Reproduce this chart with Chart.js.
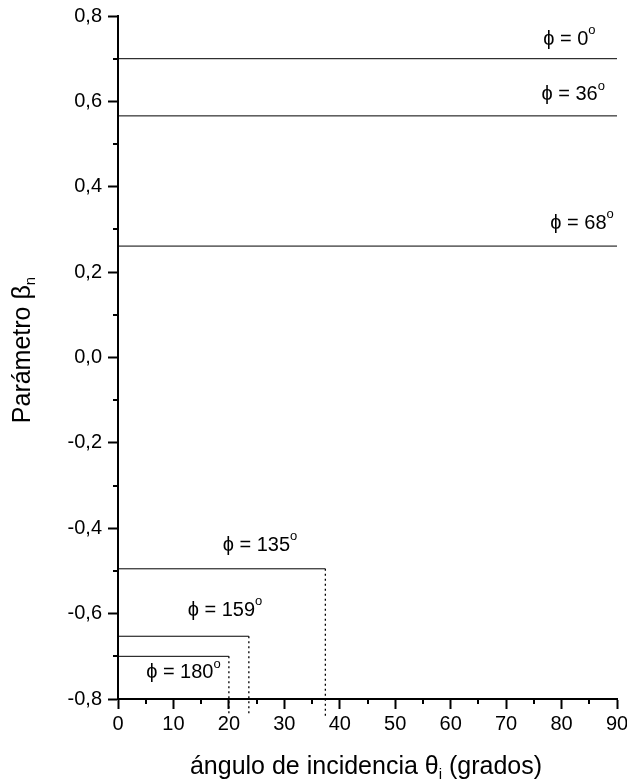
<!DOCTYPE html>
<html>
<head>
<meta charset="utf-8">
<script src="https://cdn.jsdelivr.net/npm/chart.js@4/dist/chart.umd.min.js"></script>
<style>
body { margin: 0; background: #fff; }
#wrap { width: 627px; height: 783px; }
</style>
</head>
<body>
<div id="wrap"><canvas id="chart" width="627" height="783"></canvas></div>
<script>
// values
const phiAngles = [0, 36, 68, 135, 159, 180];
const betaValues = [0.700, 0.566, 0.261, -0.495, -0.653, -0.700];
const cutoffAngles = [90, 90, 90, 37.4, 23.6, 20.0];
const hasCutoff = [false, false, false, true, true, true];
const dropTo = -0.84;

// where each phi label sits (data units)
const labelX = [81.4, 82.1, 83.7, 25.6, 19.3, 11.8];
const labelY = [0.744, 0.615, 0.313, -0.441, -0.593, -0.739];

const xMin = 0, xMax = 90, xStep = 10;
const yMin = -0.8, yMax = 0.8, yStep = 0.2;

const FONT = "'Liberation Sans', Arial, 'DejaVu Sans', sans-serif";

const datasets = [];
phiAngles.forEach((phi, i) => {
    datasets.push({
        label: 'phi ' + phi,
        data: [{ x: 0, y: betaValues[i] }, { x: cutoffAngles[i], y: betaValues[i] }],
        borderColor: '#000',
        borderWidth: 1,
        pointRadius: 0,
        showLine: true
    });
    if (hasCutoff[i]) {
        datasets.push({
            label: 'cut ' + phi,
            data: [{ x: cutoffAngles[i], y: betaValues[i] }, { x: cutoffAngles[i], y: dropTo }],
            borderColor: '#000',
            borderWidth: 1.3,
            borderDash: [2, 3],
            pointRadius: 0,
            showLine: true,
            clip: false
        });
    }
});

// draw text made of pieces (for sub/superscripts)
function drawRich(ctx, parts, x, y, align) {
    let w = 0;
    parts.forEach(p => {
        ctx.font = p.size + 'px ' + FONT;
        p.w = ctx.measureText(p.t).width;
        w += p.w;
    });
    let cx = align === 'center' ? x - w / 2 : x;
    ctx.textAlign = 'left';
    ctx.textBaseline = 'middle';
    parts.forEach(p => {
        ctx.font = p.size + 'px ' + FONT;
        ctx.fillText(p.t, cx, y + (p.dy || 0));
        cx += p.w;
    });
}

const extras = {
    id: 'extras',
    afterDraw(chart) {
        const ctx = chart.ctx;
        const xs = chart.scales.x, ys = chart.scales.y;
        const area = chart.chartArea;
        ctx.save();
        ctx.strokeStyle = '#000';
        ctx.lineWidth = 2;
        // minor ticks
        for (let v = xMin + xStep / 2; v < xMax; v += xStep) {
            const px = Math.round(xs.getPixelForValue(v));
            ctx.beginPath();
            ctx.moveTo(px, area.bottom);
            ctx.lineTo(px, area.bottom + 5);
            ctx.stroke();
        }
        for (let v = yMin + yStep / 2; v < yMax; v += yStep) {
            const py = Math.round(ys.getPixelForValue(v));
            ctx.beginPath();
            ctx.moveTo(area.left, py);
            ctx.lineTo(area.left - 5, py);
            ctx.stroke();
        }
        ctx.fillStyle = '#000';
        // phi labels
        phiAngles.forEach((phi, i) => {
            const px = xs.getPixelForValue(labelX[i]);
            const py = ys.getPixelForValue(labelY[i]);
            drawRich(ctx, [
                { t: '\u03D5 = ' + phi, size: 20 },
                { t: 'o', size: 13, dy: -9 }
            ], px, py, 'center');
        });
        // x title
        drawRich(ctx, [
            { t: '\u00E1ngulo de incidencia \u03B8', size: 25 },
            { t: 'i', size: 15, dy: 8 },
            { t: ' (grados)', size: 25 }
        ], 366, 767, 'center');
        // y title
        ctx.translate(23, 350);
        ctx.rotate(-Math.PI / 2);
        drawRich(ctx, [
            { t: 'Par\u00E1metro \u03B2', size: 25 },
            { t: 'n', size: 15, dy: 8 }
        ], 0, 0, 'center');
        ctx.restore();
    }
};

new Chart(document.getElementById('chart'), {
    type: 'scatter',
    data: { datasets: datasets },
    options: {
        responsive: false,
        animation: false,
        layout: { padding: { top: 16, right: 10, left: 0, bottom: 0 } },
        plugins: {
            legend: { display: false },
            tooltip: { enabled: false }
        },
        scales: {
            x: {
                type: 'linear',
                min: xMin,
                max: xMax,
                afterFit: scale => {
                    scale.height = 84;
                    scale.paddingLeft = 0;
                    scale.paddingRight = 0;
                },
                border: { display: true, color: '#000', width: 2 },
                grid: { drawOnChartArea: false, tickLength: 10, tickWidth: 2, tickColor: '#000' },
                ticks: {
                    stepSize: xStep,
                    color: '#000',
                    padding: 3,
                    font: { family: FONT, size: 20 }
                }
            },
            y: {
                type: 'linear',
                min: yMin,
                max: yMax,
                afterFit: scale => {
                    scale.width = 118;
                    scale.paddingTop = 0;
                    scale.paddingBottom = 0;
                },
                border: { display: true, color: '#000', width: 2 },
                grid: { drawOnChartArea: false, tickLength: 10, tickWidth: 2, tickColor: '#000' },
                ticks: {
                    stepSize: yStep,
                    color: '#000',
                    padding: 6,
                    font: { family: FONT, size: 20 },
                    callback: v => (Math.round(v * 10) / 10).toFixed(1).replace('.', ',')
                }
            }
        }
    },
    plugins: [extras]
});
</script>
</body>
</html>
